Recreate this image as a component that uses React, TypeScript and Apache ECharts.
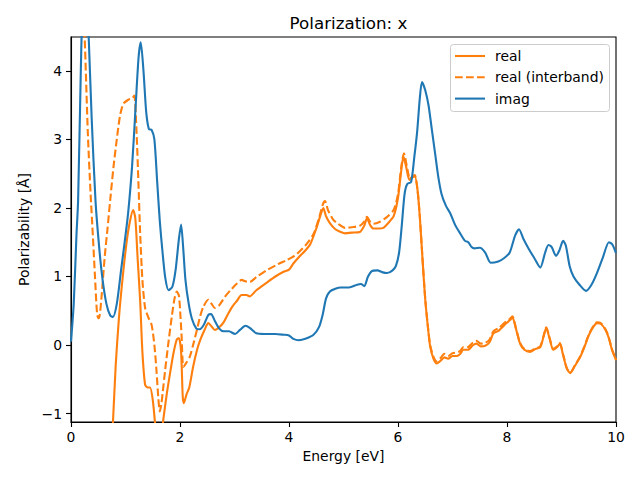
import React, { useEffect, useRef } from "react";
import * as echarts from "echarts";

const imagX = [0.00,0.05,0.10,0.13,0.18,0.22,0.27,0.32,0.38,0.45,0.52,0.58,0.65,0.72,0.77,0.84,0.92,1.00,1.05,1.12,1.18,1.24,1.28,1.33,1.38,1.43,1.48,1.53,1.58,1.63,1.68,1.73,1.79,1.86,1.92,1.98,2.02,2.06,2.10,2.16,2.22,2.30,2.36,2.44,2.52,2.57,2.64,2.72,2.80,2.90,3.01,3.10,3.20,3.28,3.40,3.55,3.75,3.90,4.00,4.08,4.18,4.30,4.45,4.55,4.62,4.68,4.75,4.85,4.95,5.10,5.25,5.32,5.38,5.45,5.52,5.62,5.72,5.80,5.90,5.96,6.02,6.07,6.12,6.17,6.24,6.30,6.35,6.40,6.44,6.50,6.56,6.62,6.68,6.74,6.80,6.88,6.96,7.05,7.14,7.23,7.29,7.35,7.40,7.50,7.60,7.70,7.84,7.95,8.05,8.15,8.22,8.30,8.40,8.50,8.61,8.70,8.76,8.82,8.90,8.96,9.03,9.08,9.15,9.22,9.33,9.45,9.55,9.65,9.76,9.87,9.93,10.00];
const imagY = [0.05,0.6,1.6,2.1,4.0,5.2,5.6,4.6,3.3,2.1,1.4,0.95,0.6,0.43,0.41,0.6,1.1,1.6,1.94,2.6,3.4,4.2,4.42,4.0,3.4,3.15,3.14,3.0,2.4,1.8,1.35,0.98,0.80,0.85,1.1,1.55,1.76,1.4,0.95,0.6,0.38,0.24,0.23,0.30,0.44,0.45,0.35,0.24,0.20,0.20,0.16,0.22,0.28,0.25,0.17,0.16,0.16,0.15,0.14,0.09,0.07,0.09,0.15,0.26,0.45,0.68,0.78,0.82,0.84,0.84,0.88,0.89,0.86,1.0,1.08,1.09,1.06,1.05,1.09,1.15,1.35,1.75,2.2,2.35,2.38,2.75,3.1,3.6,3.84,3.72,3.5,3.15,2.80,2.45,2.2,2.03,1.92,1.75,1.63,1.52,1.50,1.43,1.41,1.42,1.35,1.20,1.22,1.27,1.35,1.60,1.69,1.55,1.40,1.27,1.13,1.35,1.46,1.43,1.30,1.38,1.52,1.45,1.15,1.00,0.88,0.79,0.88,1.05,1.28,1.50,1.47,1.34];

const realX = [0.60,0.70,0.77,0.82,0.88,0.95,1.02,1.08,1.14,1.18,1.22,1.27,1.31,1.36,1.41,1.45,1.50,1.55,1.60,1.66,1.70,1.76,1.82,1.88,1.94,1.98,2.02,2.05,2.07,2.12,2.17,2.24,2.31,2.37,2.45,2.52,2.58,2.64,2.72,2.80,2.88,2.96,3.05,3.13,3.22,3.28,3.40,3.59,3.75,3.90,4.00,4.08,4.20,4.30,4.39,4.50,4.58,4.63,4.68,4.75,4.85,4.95,5.03,5.15,5.30,5.38,5.43,5.49,5.55,5.65,5.73,5.82,5.92,6.00,6.06,6.10,6.15,6.21,6.27,6.31,6.36,6.40,6.45,6.50,6.55,6.59,6.65,6.71,6.78,6.85,6.92,7.00,7.08,7.14,7.20,7.28,7.38,7.44,7.52,7.60,7.68,7.75,7.85,7.99,8.05,8.10,8.16,8.24,8.32,8.42,8.52,8.61,8.67,8.72,8.78,8.85,8.92,8.97,9.03,9.10,9.16,9.25,9.34,9.42,9.50,9.58,9.65,9.72,9.80,9.86,9.93,10.00];
const realY = [-4.0,-2.0,-1.12,-0.3,0.4,1.0,1.5,1.8,1.97,1.85,1.3,0.63,-0.1,-0.58,-0.62,-0.62,-0.8,-1.2,-1.5,-1.3,-1.05,-0.7,-0.40,-0.12,0.08,0.1,-0.1,-0.75,-0.85,-0.72,-0.62,-0.32,-0.08,0.07,0.22,0.32,0.27,0.22,0.26,0.33,0.45,0.56,0.65,0.73,0.73,0.71,0.80,0.91,1.0,1.07,1.10,1.19,1.30,1.38,1.47,1.70,1.90,2.00,1.88,1.78,1.69,1.65,1.63,1.64,1.65,1.74,1.85,1.75,1.70,1.70,1.71,1.78,1.88,2.15,2.55,2.75,2.60,2.41,2.45,2.46,2.25,1.87,1.25,0.66,0.25,-0.02,-0.20,-0.27,-0.23,-0.18,-0.20,-0.16,-0.16,-0.13,-0.07,-0.07,0.0,0.02,-0.02,-0.01,0.04,0.17,0.21,0.32,0.36,0.40,0.25,0.02,-0.07,-0.10,-0.06,-0.03,0.12,0.25,0.10,-0.07,-0.03,0.02,-0.15,-0.35,-0.41,-0.30,-0.18,-0.03,0.14,0.26,0.32,0.31,0.23,0.12,-0.08,-0.22];

const interX = [0.00,0.10,0.20,0.25,0.31,0.36,0.40,0.44,0.48,0.51,0.53,0.56,0.62,0.67,0.72,0.78,0.84,0.90,0.96,1.05,1.12,1.16,1.20,1.24,1.27,1.31,1.36,1.42,1.48,1.53,1.57,1.60,1.63,1.66,1.68,1.73,1.79,1.85,1.90,1.94,1.98,2.01,2.03,2.06,2.10,2.18,2.24,2.31,2.37,2.43,2.52,2.58,2.64,2.72,2.83,2.95,3.05,3.13,3.20,3.28,3.40,3.59,3.80,3.96,4.10,4.20,4.30,4.45,4.55,4.62,4.66,4.72,4.81,4.90,5.03,5.15,5.30,5.38,5.43,5.49,5.55,5.67,5.80,5.92,6.00,6.06,6.11,6.16,6.22,6.28,6.31,6.36,6.40,6.45,6.50,6.55,6.59,6.65,6.71,6.78,6.85,6.92,7.00,7.08,7.14,7.20,7.28,7.38,7.44,7.52,7.60,7.68,7.75,7.85,7.99,8.05,8.10,8.16,8.24,8.32,8.42,8.52,8.61,8.67,8.72,8.78,8.85,8.92,8.97,9.03,9.10,9.16,9.25,9.34,9.42,9.50,9.58,9.65,9.72,9.80,9.86,9.93,10.00];
const interY = [7.0,6.5,5.3,4.5,3.07,2.2,1.61,1.0,0.44,0.39,0.45,0.7,1.3,1.7,2.12,2.6,3.0,3.35,3.52,3.58,3.6,3.64,3.16,2.3,1.61,0.95,0.54,0.40,0.29,0.0,-0.39,-0.75,-0.97,-0.85,-0.71,-0.35,0.05,0.42,0.68,0.78,0.72,0.4,0.12,-0.32,-0.28,-0.17,0.0,0.22,0.42,0.56,0.66,0.60,0.54,0.58,0.71,0.82,0.90,0.95,0.93,0.92,0.99,1.09,1.18,1.24,1.30,1.37,1.45,1.62,1.85,2.05,2.10,1.96,1.83,1.77,1.71,1.72,1.74,1.80,1.87,1.80,1.77,1.80,1.87,1.97,2.2,2.6,2.80,2.62,2.43,2.47,2.48,2.25,1.88,1.26,0.67,0.26,0.0,-0.17,-0.24,-0.19,-0.13,-0.16,-0.12,-0.11,-0.09,-0.03,-0.03,0.04,0.06,0.02,0.03,0.08,0.20,0.25,0.35,0.38,0.42,0.26,0.03,-0.06,-0.09,-0.05,-0.02,0.13,0.26,0.11,-0.06,-0.02,0.03,-0.14,-0.34,-0.40,-0.29,-0.17,-0.02,0.15,0.27,0.33,0.32,0.24,0.13,-0.07,-0.21];

const xTicks = [0, 2, 4, 6, 8, 10];
const yTicks = [-1, 0, 1, 2, 3, 4];
const legendNames = ["real", "real (interband)", "imag"];
const legendColors = ["#ff7f0e", "#ff7f0e", "#1f77b4"];
const legendDashed = [false, true, false];

const zip = (xs: number[], ys: number[]) => xs.map((x, i) => [x, ys[i]]);

export default function App() {
  const ref = useRef<HTMLDivElement>(null);
  useEffect(() => {
    if (!ref.current) return;
    const chart = echarts.init(ref.current, undefined, { renderer: "svg" });
    const font = "DejaVu Sans";
    const dash = [7.7, 3.3];
    const legendEls: any[] = [
      {
        type: "rect",
        shape: { x: 450.5, y: 44.5, width: 159, height: 67, r: 3 },
        style: { fill: "rgba(255,255,255,0.8)", stroke: "#cccccc", lineWidth: 1 },
        z: 100,
      },
    ];
    legendNames.forEach((n, i) => {
      const cy = 56 + i * 21.3;
      legendEls.push({
        type: "line",
        shape: { x1: 455, y1: cy, x2: 485, y2: cy },
        style: { stroke: legendColors[i], lineWidth: 2.1, lineDash: legendDashed[i] ? dash : null },
        z: 101,
      });
      legendEls.push({
        type: "text",
        x: 495,
        y: cy,
        style: { text: n, fontSize: 13.9, fontFamily: font, fill: "#000", textAlign: "left", textVerticalAlign: "middle" },
        z: 101,
      });
    });
    chart.setOption({
      animation: false,
      textStyle: { fontFamily: font },
      title: {
        text: "Polarization: x",
        left: 343.5,
        top: 9,
        textAlign: "center",
        textStyle: { fontSize: 16.7, fontWeight: "normal", color: "#000", fontFamily: font },
      },
      graphic: legendEls,
      grid: {
        left: 71,
        right: 24,
        top: 37,
        bottom: 58,
        show: true,
        borderColor: "#000",
        borderWidth: 1.1,
        backgroundColor: "transparent",
      },
      xAxis: {
        type: "value",
        min: 0,
        max: 10,
        interval: 2,
        name: "Energy [eV]",
        nameLocation: "middle",
        nameGap: 27,
        nameTextStyle: { fontSize: 13.9, color: "#000", fontFamily: font },
        axisLine: { show: true, onZero: false, lineStyle: { color: "#000", width: 1.1 } },
        axisTick: { show: true, inside: false, length: 5, lineStyle: { color: "#000", width: 1.1 }, customValues: xTicks },
        axisLabel: { fontSize: 13.9, color: "#000", margin: 8, fontFamily: font, customValues: xTicks },
        splitLine: { show: false },
      },
      yAxis: {
        type: "value",
        min: -1.124,
        max: 4.496,
        name: "Polarizability [Å]",
        nameLocation: "middle",
        nameRotate: 90,
        nameGap: 38,
        nameTextStyle: { fontSize: 13.9, color: "#000", fontFamily: font },
        axisLine: { show: true, onZero: false, lineStyle: { color: "#000", width: 1.1 } },
        axisTick: { show: true, inside: false, length: 5, lineStyle: { color: "#000", width: 1.1 }, customValues: yTicks },
        axisLabel: {
          fontSize: 13.9,
          color: "#000",
          margin: 9,
          fontFamily: font,
          customValues: yTicks,
          formatter: (v: number) => String(v).replace("-", "\u2212"),
        },
        splitLine: { show: false },
      },
      series: [
        {
          name: "real",
          type: "line",
          data: zip(realX, realY),
          showSymbol: false,
          symbol: "none",
          smooth: 0.25,
          clip: true,
          lineStyle: { color: "#ff7f0e", width: 2.1 },
        },
        {
          name: "real (interband)",
          type: "line",
          data: zip(interX, interY),
          showSymbol: false,
          symbol: "none",
          smooth: 0.25,
          clip: true,
          lineStyle: { color: "#ff7f0e", width: 2.1, type: dash },
        },
        {
          name: "imag",
          type: "line",
          data: zip(imagX, imagY),
          showSymbol: false,
          symbol: "none",
          smooth: 0.25,
          clip: true,
          lineStyle: { color: "#1f77b4", width: 2.1 },
        },
      ],
    });
    return () => chart.dispose();
  }, []);
  return <div ref={ref} style={{ width: 640, height: 480, margin: -8 }} />;
}
